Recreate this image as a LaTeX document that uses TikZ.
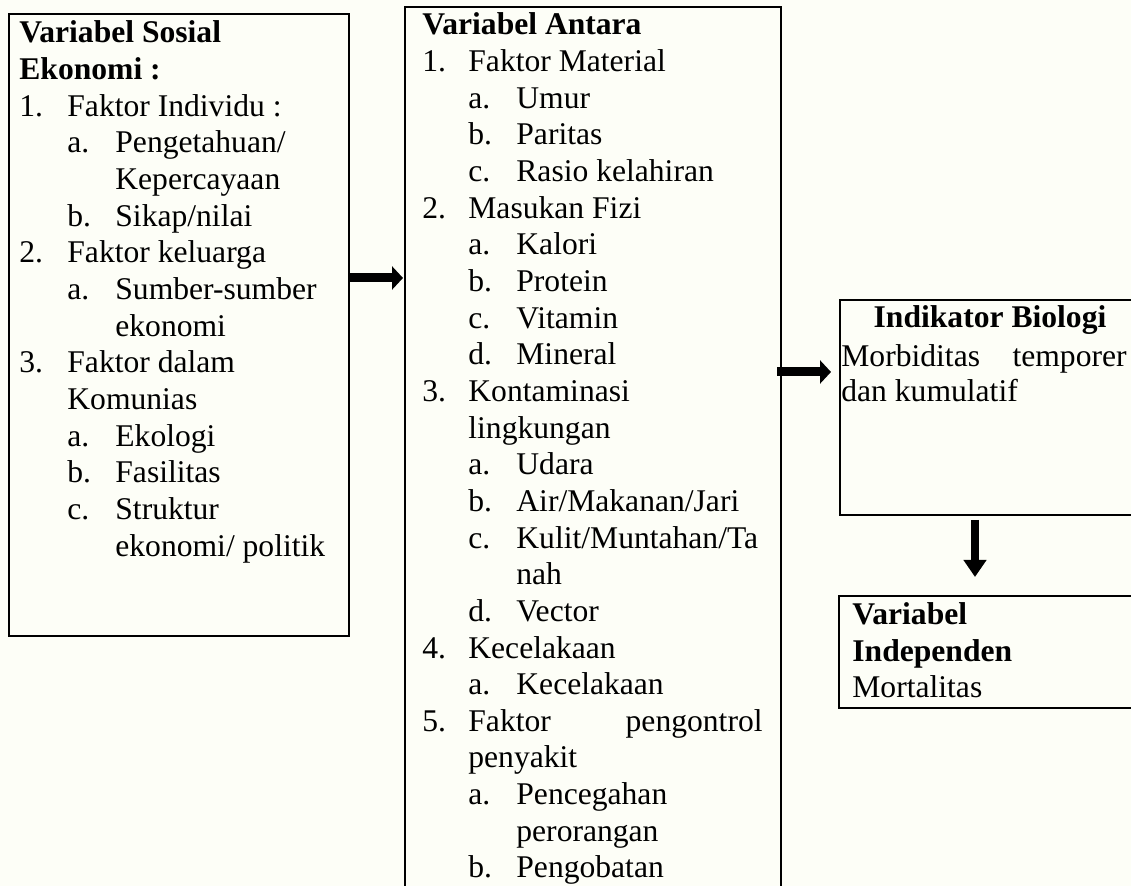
\documentclass[tikz,border=0pt]{standalone}
\usepackage{fontspec}
\setmainfont{Liberation Serif}
\usetikzlibrary{calc}
\usetikzlibrary{arrows.meta}
\definecolor{paper}{RGB}{253,254,247}

\tikzset{
  txt/.style={inner sep=0pt, anchor=base west, font=\fontsize{15.8pt}{18pt}\selectfont},
  hdr/.style={txt, font=\fontsize{15.8pt}{18pt}\selectfont\bfseries},
  kotak/.style={draw=black, line width=1pt, anchor=north west, inner sep=0pt},
  panah/.style={line width=4.5pt, -{Triangle[width=11.5pt,length=5.5pt]}},
}

\begin{document}
\begin{tikzpicture}[x=0.5pt,y=-0.5pt]

\useasboundingbox (0,0) rectangle (1131,886);
\fill[paper] (0,0) rectangle (1131,886);
\clip (0,0) rectangle (1131,886);

% kotak
\node[kotak, minimum width=170pt, minimum height=311pt] (sosial) at (8,13) {};
\node[kotak, minimum width=188pt, minimum height=450pt] (antara) at (404,6) {};
\node[kotak, minimum width=152pt, minimum height=107.5pt] (biologi) at (839,299) {};
\node[kotak, minimum width=152pt, minimum height=56pt] (mortal) at (838,595) {};

% panah
\draw[panah] (sosial.east |- 0,278) -- ($(antara.west |- 0,278)+(-1,0)$);
\draw[panah] ($(antara.east |- 0,372)+(-5,0)$) -- ($(biologi.west |- 0,372)+(-8,0)$);
\draw[panah, line width=4pt, -{Triangle[width=11pt,length=8.5pt]}]
  ($(biologi.south -| 975,0)+(0,4)$) -- ($(mortal.north -| 975,0)+(0,-18)$);

% Variabel Sosial Ekonomi
\node[hdr] (sos-h1) at (19,43) {Variabel Sosial};
\node[hdr] (sos-h2) at (19,79.65) {Ekonomi :};
\foreach \k/\xx/\lab in {2/19/1., 3/67/a., 5/67/b., 6/19/2., 7/67/a., 9/19/3., 11/67/a., 12/67/b., 13/67/c.}
  \node[txt] (sos-n\k) at (\xx,43+36.65*\k) {\lab};
\foreach \k/\xx/\isi in {2/67/Faktor Individu :, 3/115/{Pengetahuan/}, 4/115/Kepercayaan,
    5/115/{Sikap/nilai}, 6/67/Faktor keluarga, 7/115/Sumber-sumber, 8/115/ekonomi,
    9/67/Faktor dalam, 10/67/Komunias, 11/115/Ekologi, 12/115/Fasilitas,
    13/115/Struktur, 14/115/{ekonomi/ politik}}
  \node[txt] (sos-t\k) at (\xx,43+36.65*\k) {\isi};

% Variabel Antara
\node[hdr] (ant-h) at (422,35) {Variabel Antara};
\foreach \k/\xx/\lab in {1/422/1., 2/468/a., 3/468/b., 4/468/c., 5/422/2., 6/468/a., 7/468/b.,
    8/468/c., 9/468/d., 10/422/3., 12/468/a., 13/468/b., 14/468/c., 16/468/d., 17/422/4.,
    18/468/a., 19/422/5., 21/468/a., 23/468/b.}
  \node[txt] (ant-n\k) at (\xx,35+36.65*\k) {\lab};
\foreach \k/\xx/\isi in {1/468/Faktor Material, 2/516/Umur, 3/516/Paritas, 4/516/Rasio kelahiran,
    5/468/Masukan Fizi, 6/516/Kalori, 7/516/Protein, 8/516/Vitamin, 9/516/Mineral,
    10/468/Kontaminasi, 11/468/lingkungan, 12/516/Udara, 13/516/{Air/Makanan/Jari},
    14/516/{Kulit/Muntahan/Ta}, 15/516/nah, 16/516/Vector, 17/468/Kecelakaan,
    18/516/Kecelakaan, 19/468/Faktor, 20/468/penyakit, 21/516/Pencegahan,
    22/516/perorangan, 23/516/Pengobatan}
  \node[txt] (ant-t\k) at (\xx,35+36.65*\k) {\isi};
\node[txt, anchor=base east] (ant-t19b) at (763,35+36.65*19) {pengontrol};

% Indikator Biologi
\node[hdr, anchor=base] (bio-h) at (990,328) {Indikator Biologi};
\node[txt] (bio-t1) at (841,367) {Morbiditas};
\node[txt, anchor=base east] (bio-t2) at (1127,367) {temporer};
\node[txt] (bio-t3) at (841,402) {dan kumulatif};

% Variabel Independen
\node[hdr] (mor-h1) at (852,625) {Variabel};
\node[hdr] (mor-h2) at (852,662) {Independen};
\node[txt] (mor-t) at (852,698) {Mortalitas};

\end{tikzpicture}
\end{document}
